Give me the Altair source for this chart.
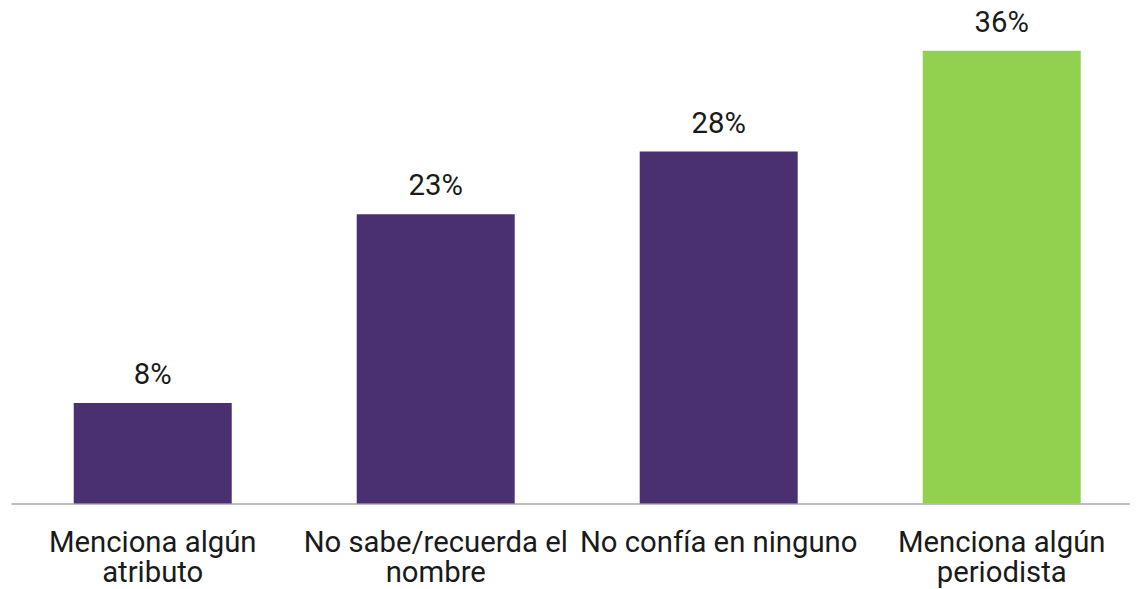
import altair as alt
import pandas as pd

categories = ["Menciona algún|atributo", "No sabe/recuerda el|nombre", "No confía en ninguno", "Menciona algún|periodista"]
values = [8, 23, 28, 36]
labels = ["8%", "23%", "28%", "36%"]
colors = ["#4B3071", "#4B3071", "#4B3071", "#92D050"]

df = pd.DataFrame({"cat": categories, "val": values, "lab": labels, "col": colors})

x = alt.X("cat:N", sort=categories, title=None,
          scale=alt.Scale(paddingInner=0.4417, paddingOuter=0.198, align=0.56),
          axis=alt.Axis(labelExpr="split(datum.label, '|')", labelAngle=0,
                        labelFont="Roboto", labelFontSize=29.5, labelColor="#1a1a1a",
                        labelPadding=25, labelLineHeight=31, ticks=False,
                        domainColor="#BFBFBF", domainWidth=2, labelLimit=400))
y = alt.Y("val:Q", scale=alt.Scale(domain=[0, 36], nice=False), axis=None)

bars = alt.Chart(df).mark_bar().encode(x=x, y=y, color=alt.Color("col:N", scale=None))
text = alt.Chart(df).mark_text(dy=-13, baseline="bottom", font="Roboto", fontSize=29.5, color="#1a1a1a").encode(
    x=alt.X("cat:N", sort=categories), y="val:Q", text="lab:N")

chart = (bars + text).properties(
    width=1127, height=456,
    autosize=alt.AutoSizeParams(type="none"),
    padding={"left": 3, "top": 41, "right": 0, "bottom": 85},
).configure_view(stroke=None)

chart.save("out.html", embed_options={"renderer": "svg", "actions": False})
